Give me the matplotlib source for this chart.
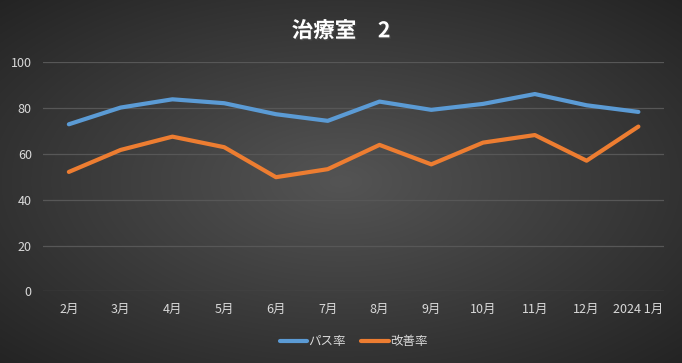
import numpy as np
import matplotlib.pyplot as plt
import matplotlib.patheffects as pe

plt.rcParams['font.family'] = ['Noto Sans CJK JP', 'DejaVu Sans']

months = ['2月', '3月', '4月', '5月', '6月', '7月', '8月', '9月', '10月', '11月', '12月', '2024 1月']
pass_rate = [73.0, 80.3, 83.9, 82.2, 77.4, 74.5, 82.9, 79.3, 81.9, 86.2, 81.3, 78.4]
improve_rate = [52.2, 61.8, 67.6, 63.0, 49.9, 53.4, 64.0, 55.5, 65.0, 68.3, 57.1, 72.0]

fig = plt.figure(figsize=(6.82, 3.63), dpi=100)

# radial gradient background
bg = fig.add_axes([0, 0, 1, 1], zorder=0)
yy, xx = np.mgrid[-1:1:363j, -1:1:682j]
r = np.sqrt(xx**2 + yy**2) / np.sqrt(2)
grad = 0.33 - 0.19 * r
bg.imshow(np.dstack([grad, grad, grad]), aspect='auto', extent=[0, 1, 0, 1])
bg.set_axis_off()

ax = fig.add_axes([0.063, 0.197, 0.911, 0.631], zorder=1)
ax.patch.set_alpha(0)
x = np.arange(len(months))
ax.plot(x, pass_rate, color='#5B9BD5', linewidth=3, solid_capstyle='round', label='パス率')
ax.plot(x, improve_rate, color='#ED7D31', linewidth=3, solid_capstyle='round', label='改善率')

ax.set_xlim(-0.5, len(months) - 0.5)
ax.set_ylim(0, 100)
ax.set_yticks(range(0, 101, 20))
ax.set_xticks(x)
ax.set_xticklabels(months)
ax.grid(axis='y', color='#575757', linewidth=0.9)
ax.set_axisbelow(True)
for s in ax.spines.values():
    s.set_visible(False)
ax.tick_params(length=0, colors='#d9d9d9', labelsize=9, pad=8)

fig.text(0.5, 0.915, '治療室　2', ha='center', va='center', color='white',
         fontsize=15.5, fontweight='bold',
         path_effects=[pe.withSimplePatchShadow(offset=(1, -1), alpha=0.6)])

leg = ax.legend(loc='center', bbox_to_anchor=(0.5, -0.22), ncol=2, frameon=False,
                fontsize=9, handlelength=2.2, handletextpad=0.1, columnspacing=1.2)
for t in leg.get_texts():
    t.set_color('#d9d9d9')

fig.savefig('out.png', dpi=100)
